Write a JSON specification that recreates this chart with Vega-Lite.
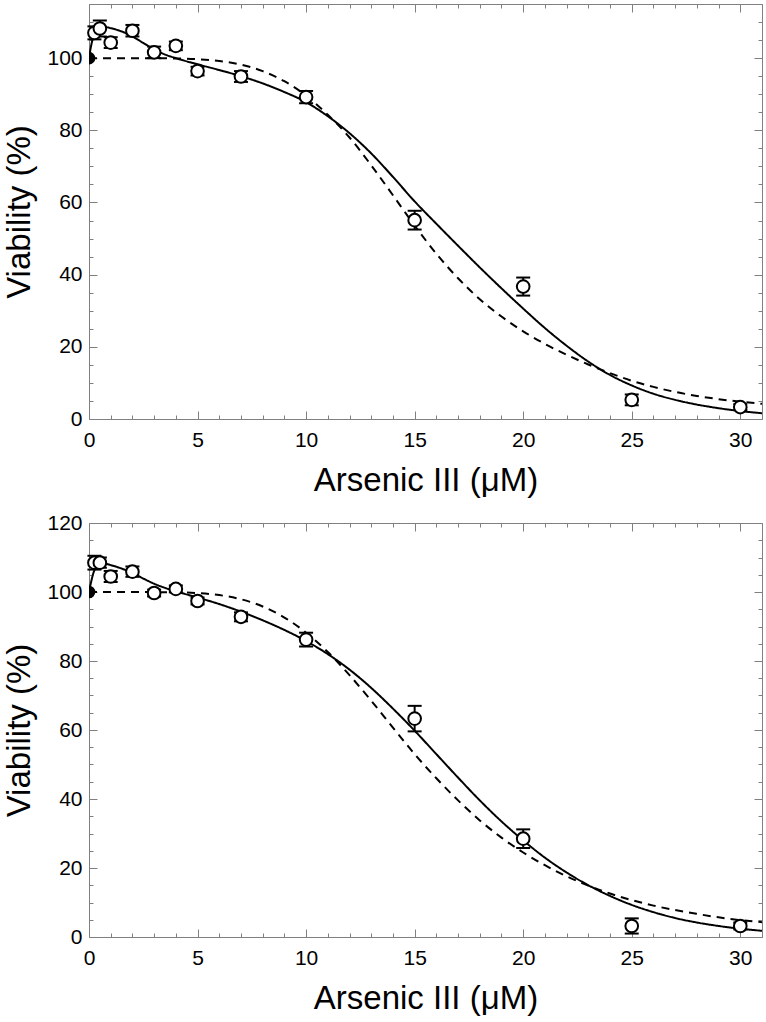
{
  "$schema": "https://vega.github.io/schema/vega-lite/v6.json",
  "padding": {"left": 3, "top": 3, "right": 3, "bottom": 2},
  "spacing": 15,
  "config": {
    "font": "Liberation Sans",
    "view": {"stroke": null},
    "axis": {
      "domainColor": "#808080",
      "tickColor": "#808080",
      "labelColor": "black",
      "titleColor": "black",
      "labelFontSize": 21,
      "titleFontSize": 33,
      "titleFontWeight": "normal",
      "grid": false,
      "labelFlush": false,
      "labelOverlap": false
    }
  },
  "datasets": {
    "ptsTop": [
      {"x": 0.25, "y": 107.0, "lo": 105.2, "hi": 108.8},
      {"x": 0.5, "y": 108.2, "lo": 106.0, "hi": 110.4},
      {"x": 1, "y": 104.3, "lo": 102.8, "hi": 105.8},
      {"x": 2, "y": 107.6, "lo": 106.0, "hi": 109.2},
      {"x": 3, "y": 101.6, "lo": 100.0, "hi": 103.2},
      {"x": 4, "y": 103.4, "lo": 102.2, "hi": 104.6},
      {"x": 5, "y": 96.4, "lo": 95.2, "hi": 97.6},
      {"x": 7, "y": 94.9, "lo": 93.4, "hi": 96.4},
      {"x": 10, "y": 89.2, "lo": 87.5, "hi": 90.9},
      {"x": 15, "y": 55.1, "lo": 52.5, "hi": 57.7},
      {"x": 20, "y": 36.7, "lo": 34.2, "hi": 39.2},
      {"x": 25, "y": 5.3, "lo": 3.8, "hi": 6.8},
      {"x": 30, "y": 3.3, "lo": 2.5, "hi": 4.1}
    ],
    "ptsBot": [
      {"x": 0.25, "y": 108.5, "lo": 106.5, "hi": 110.5},
      {"x": 0.5, "y": 108.5, "lo": 107.0, "hi": 110.0},
      {"x": 1, "y": 104.5, "lo": 102.9, "hi": 106.1},
      {"x": 2, "y": 105.9, "lo": 104.4, "hi": 107.4},
      {"x": 3, "y": 99.7, "lo": 98.7, "hi": 100.7},
      {"x": 4, "y": 100.9, "lo": 99.9, "hi": 101.9},
      {"x": 5, "y": 97.4, "lo": 96.4, "hi": 98.4},
      {"x": 7, "y": 92.8, "lo": 91.5, "hi": 94.1},
      {"x": 10, "y": 86.2, "lo": 84.2, "hi": 88.2},
      {"x": 15, "y": 63.3, "lo": 59.6, "hi": 67.0},
      {"x": 20, "y": 28.5, "lo": 25.8, "hi": 31.2},
      {"x": 25, "y": 3.2, "lo": 1.0, "hi": 5.4},
      {"x": 30, "y": 3.2, "lo": 2.2, "hi": 4.2}
    ],
    "ctrl": [{"x": 0, "y": 100}],
    "fitTop": [
      {"model": "hormetic", "x": 0, "y": 100},
      {"model": "hormetic", "x": 0.1, "y": 103.5},
      {"model": "hormetic", "x": 0.25, "y": 106.8},
      {"model": "hormetic", "x": 0.5, "y": 108.4},
      {"model": "hormetic", "x": 0.75, "y": 108.6},
      {"model": "hormetic", "x": 1, "y": 108.3},
      {"model": "hormetic", "x": 1.5, "y": 107.4},
      {"model": "hormetic", "x": 2, "y": 106.0},
      {"model": "hormetic", "x": 2.5, "y": 104.2},
      {"model": "hormetic", "x": 3, "y": 102.4},
      {"model": "hormetic", "x": 3.5, "y": 101.0},
      {"model": "hormetic", "x": 4, "y": 100.0},
      {"model": "hormetic", "x": 5, "y": 98.3},
      {"model": "hormetic", "x": 6, "y": 96.7},
      {"model": "hormetic", "x": 7, "y": 95.0},
      {"model": "hormetic", "x": 8, "y": 93.0},
      {"model": "hormetic", "x": 9, "y": 90.6},
      {"model": "hormetic", "x": 10, "y": 87.8},
      {"model": "hormetic", "x": 11, "y": 83.9},
      {"model": "hormetic", "x": 12, "y": 79.2},
      {"model": "hormetic", "x": 13, "y": 73.6},
      {"model": "hormetic", "x": 14, "y": 67.1},
      {"model": "hormetic", "x": 15, "y": 60.3},
      {"model": "hormetic", "x": 16, "y": 54.1},
      {"model": "hormetic", "x": 17, "y": 48.0},
      {"model": "hormetic", "x": 18, "y": 42.0},
      {"model": "hormetic", "x": 19, "y": 36.2},
      {"model": "hormetic", "x": 20, "y": 30.6},
      {"model": "hormetic", "x": 21, "y": 25.2},
      {"model": "hormetic", "x": 22, "y": 20.3},
      {"model": "hormetic", "x": 23, "y": 15.9},
      {"model": "hormetic", "x": 24, "y": 12.2},
      {"model": "hormetic", "x": 25, "y": 9.3},
      {"model": "hormetic", "x": 26, "y": 7.0},
      {"model": "hormetic", "x": 27, "y": 5.3},
      {"model": "hormetic", "x": 28, "y": 4.0},
      {"model": "hormetic", "x": 29, "y": 3.0},
      {"model": "hormetic", "x": 30, "y": 2.2},
      {"model": "hormetic", "x": 31, "y": 1.6},
      {"model": "hill", "x": 0, "y": 100},
      {"model": "hill", "x": 2, "y": 100},
      {"model": "hill", "x": 4, "y": 99.9},
      {"model": "hill", "x": 5, "y": 99.7},
      {"model": "hill", "x": 6, "y": 99.2},
      {"model": "hill", "x": 7, "y": 98.2},
      {"model": "hill", "x": 8, "y": 96.4},
      {"model": "hill", "x": 9, "y": 93.6},
      {"model": "hill", "x": 10, "y": 89.6},
      {"model": "hill", "x": 11, "y": 84.3},
      {"model": "hill", "x": 12, "y": 78.0},
      {"model": "hill", "x": 13, "y": 70.3},
      {"model": "hill", "x": 14, "y": 62.0},
      {"model": "hill", "x": 15, "y": 53.6},
      {"model": "hill", "x": 16, "y": 45.8},
      {"model": "hill", "x": 17, "y": 39.0},
      {"model": "hill", "x": 18, "y": 33.2},
      {"model": "hill", "x": 19, "y": 28.4},
      {"model": "hill", "x": 20, "y": 24.3},
      {"model": "hill", "x": 21, "y": 20.8},
      {"model": "hill", "x": 22, "y": 17.8},
      {"model": "hill", "x": 23, "y": 15.1},
      {"model": "hill", "x": 24, "y": 12.7},
      {"model": "hill", "x": 25, "y": 10.6},
      {"model": "hill", "x": 26, "y": 8.9},
      {"model": "hill", "x": 27, "y": 7.5},
      {"model": "hill", "x": 28, "y": 6.4},
      {"model": "hill", "x": 29, "y": 5.5},
      {"model": "hill", "x": 30, "y": 4.8},
      {"model": "hill", "x": 31, "y": 4.2}
    ],
    "fitBot": [
      {"model": "hormetic", "x": 0, "y": 100},
      {"model": "hormetic", "x": 0.1, "y": 103.0},
      {"model": "hormetic", "x": 0.25, "y": 106.3},
      {"model": "hormetic", "x": 0.5, "y": 108.0},
      {"model": "hormetic", "x": 0.75, "y": 108.2},
      {"model": "hormetic", "x": 1, "y": 107.8},
      {"model": "hormetic", "x": 1.5, "y": 106.8},
      {"model": "hormetic", "x": 2, "y": 105.5},
      {"model": "hormetic", "x": 2.5, "y": 103.9},
      {"model": "hormetic", "x": 3, "y": 102.4},
      {"model": "hormetic", "x": 3.5, "y": 101.2},
      {"model": "hormetic", "x": 4, "y": 100.2},
      {"model": "hormetic", "x": 5, "y": 98.4},
      {"model": "hormetic", "x": 6, "y": 96.5},
      {"model": "hormetic", "x": 7, "y": 94.3},
      {"model": "hormetic", "x": 8, "y": 91.8},
      {"model": "hormetic", "x": 9, "y": 89.0},
      {"model": "hormetic", "x": 10, "y": 85.8},
      {"model": "hormetic", "x": 11, "y": 82.0},
      {"model": "hormetic", "x": 12, "y": 77.5},
      {"model": "hormetic", "x": 13, "y": 72.2},
      {"model": "hormetic", "x": 14, "y": 66.2},
      {"model": "hormetic", "x": 15, "y": 59.8},
      {"model": "hormetic", "x": 16, "y": 53.0},
      {"model": "hormetic", "x": 17, "y": 46.2},
      {"model": "hormetic", "x": 18, "y": 39.6},
      {"model": "hormetic", "x": 19, "y": 33.5},
      {"model": "hormetic", "x": 20, "y": 28.0},
      {"model": "hormetic", "x": 21, "y": 23.0},
      {"model": "hormetic", "x": 22, "y": 18.7},
      {"model": "hormetic", "x": 23, "y": 15.0},
      {"model": "hormetic", "x": 24, "y": 11.9},
      {"model": "hormetic", "x": 25, "y": 9.3},
      {"model": "hormetic", "x": 26, "y": 7.2},
      {"model": "hormetic", "x": 27, "y": 5.5},
      {"model": "hormetic", "x": 28, "y": 4.2},
      {"model": "hormetic", "x": 29, "y": 3.2},
      {"model": "hormetic", "x": 30, "y": 2.4},
      {"model": "hormetic", "x": 31, "y": 1.8},
      {"model": "hill", "x": 0, "y": 100},
      {"model": "hill", "x": 2, "y": 100},
      {"model": "hill", "x": 4, "y": 99.9},
      {"model": "hill", "x": 5, "y": 99.7},
      {"model": "hill", "x": 6, "y": 99.1},
      {"model": "hill", "x": 7, "y": 97.9},
      {"model": "hill", "x": 8, "y": 95.8},
      {"model": "hill", "x": 9, "y": 92.6},
      {"model": "hill", "x": 10, "y": 88.2},
      {"model": "hill", "x": 11, "y": 82.6},
      {"model": "hill", "x": 12, "y": 75.9},
      {"model": "hill", "x": 13, "y": 68.5},
      {"model": "hill", "x": 14, "y": 60.7},
      {"model": "hill", "x": 15, "y": 53.0},
      {"model": "hill", "x": 16, "y": 46.0},
      {"model": "hill", "x": 17, "y": 39.6},
      {"model": "hill", "x": 18, "y": 33.8},
      {"model": "hill", "x": 19, "y": 28.8},
      {"model": "hill", "x": 20, "y": 24.5},
      {"model": "hill", "x": 21, "y": 20.8},
      {"model": "hill", "x": 22, "y": 17.6},
      {"model": "hill", "x": 23, "y": 14.9},
      {"model": "hill", "x": 24, "y": 12.6},
      {"model": "hill", "x": 25, "y": 10.7},
      {"model": "hill", "x": 26, "y": 9.1},
      {"model": "hill", "x": 27, "y": 7.8},
      {"model": "hill", "x": 28, "y": 6.7},
      {"model": "hill", "x": 29, "y": 5.7},
      {"model": "hill", "x": 30, "y": 4.9},
      {"model": "hill", "x": 31, "y": 4.3}
    ]
  },
  "vconcat": [
    {
      "width": 673,
      "height": 415,
      "resolve": {"axis": {"x": "independent", "y": "independent"}},
      "layer": [
        {
          "data": {"name": "fitTop"},
          "mark": {"type": "line", "color": "black", "strokeWidth": 2, "interpolate": "monotone", "clip": true},
          "encoding": {
            "x": {"field": "x", "type": "quantitative", "scale": {"domain": [0, 31], "nice": false, "zero": false},
              "axis": {"orient": "bottom", "values": [0,1,2,3,4,5,6,7,8,9,10,11,12,13,14,15,16,17,18,19,20,21,22,23,24,25,26,27,28,29,30,31],
                "labelExpr": "datum.value % 5 === 0 ? datum.label : ''",
                "labelFontSize": {"condition": {"test": "datum.value % 5 === 0", "value": 21}, "value": 0},
                "tickSize": {"condition": {"test": "datum.value % 5 === 0", "value": -8}, "value": -4},
                "labelPadding": 18, "title": "Arsenic III (μM)", "titlePadding": 14}},
            "y": {"field": "y", "type": "quantitative", "scale": {"domain": [0, 115], "nice": false, "zero": false},
              "axis": {"orient": "left", "values": [0,5,10,15,20,25,30,35,40,45,50,55,60,65,70,75,80,85,90,95,100,105,110,115],
                "labelExpr": "datum.value % 20 === 0 ? datum.label : ''",
                "labelFontSize": {"condition": {"test": "datum.value % 20 === 0", "value": 21}, "value": 0},
                "tickSize": {"condition": {"test": "datum.value % 20 === 0", "value": -8}, "value": -4},
                "labelPadding": 15, "title": "Viability (%)", "titlePadding": 10}},
            "strokeDash": {"field": "model", "type": "nominal", "scale": {"domain": ["hormetic", "hill"], "range": [[1, 0], [8, 6]]}, "legend": null}
          }
        },
        {
          "data": {"name": "ptsTop"},
          "mark": {"type": "rule", "color": "black", "strokeWidth": 2, "opacity": 1},
          "encoding": {
            "x": {"field": "x", "type": "quantitative", "scale": {"domain": [0, 31], "nice": false, "zero": false},
              "axis": {"orient": "top", "values": [0,1,2,3,4,5,6,7,8,9,10,11,12,13,14,15,16,17,18,19,20,21,22,23,24,25,26,27,28,29,30,31],
                "labels": false, "title": null,
                "tickSize": {"condition": {"test": "datum.value % 5 === 0", "value": -8}, "value": -4}}},
            "y": {"field": "lo", "type": "quantitative", "scale": {"domain": [0, 115], "nice": false, "zero": false},
              "axis": {"orient": "right", "values": [0,5,10,15,20,25,30,35,40,45,50,55,60,65,70,75,80,85,90,95,100,105,110,115],
                "labels": false, "title": null,
                "tickSize": {"condition": {"test": "datum.value % 20 === 0", "value": -8}, "value": -4}}},
            "y2": {"field": "hi"}
          }
        },
        {
          "data": {"name": "ptsTop"},
          "mark": {"type": "tick", "orient": "horizontal", "color": "black", "size": 14, "thickness": 2, "opacity": 1},
          "encoding": {
            "x": {"field": "x", "type": "quantitative", "axis": null},
            "y": {"field": "lo", "type": "quantitative", "axis": null}
          }
        },
        {
          "data": {"name": "ptsTop"},
          "mark": {"type": "tick", "orient": "horizontal", "color": "black", "size": 14, "thickness": 2, "opacity": 1},
          "encoding": {
            "x": {"field": "x", "type": "quantitative", "axis": null},
            "y": {"field": "hi", "type": "quantitative", "axis": null}
          }
        },
        {
          "data": {"name": "ctrl"},
          "mark": {"type": "circle", "color": "black", "size": 160, "opacity": 1, "clip": true},
          "encoding": {
            "x": {"field": "x", "type": "quantitative", "axis": null},
            "y": {"field": "y", "type": "quantitative", "axis": null}
          }
        },
        {
          "data": {"name": "ptsTop"},
          "mark": {"type": "point", "shape": "circle", "filled": true, "fill": "white", "stroke": "black", "strokeWidth": 2, "size": 160, "opacity": 1},
          "encoding": {
            "x": {"field": "x", "type": "quantitative", "axis": null},
            "y": {"field": "y", "type": "quantitative", "axis": null}
          }
        }
      ]
    },
    {
      "width": 673,
      "height": 414,
      "resolve": {"axis": {"x": "independent", "y": "independent"}},
      "layer": [
        {
          "data": {"name": "fitBot"},
          "mark": {"type": "line", "color": "black", "strokeWidth": 2, "interpolate": "monotone", "clip": true},
          "encoding": {
            "x": {"field": "x", "type": "quantitative", "scale": {"domain": [0, 31], "nice": false, "zero": false},
              "axis": {"orient": "bottom", "values": [0,1,2,3,4,5,6,7,8,9,10,11,12,13,14,15,16,17,18,19,20,21,22,23,24,25,26,27,28,29,30,31],
                "labelExpr": "datum.value % 5 === 0 ? datum.label : ''",
                "labelFontSize": {"condition": {"test": "datum.value % 5 === 0", "value": 21}, "value": 0},
                "tickSize": {"condition": {"test": "datum.value % 5 === 0", "value": -8}, "value": -4},
                "labelPadding": 18, "title": "Arsenic III (μM)", "titlePadding": 14}},
            "y": {"field": "y", "type": "quantitative", "scale": {"domain": [0, 120], "nice": false, "zero": false},
              "axis": {"orient": "left", "values": [0,5,10,15,20,25,30,35,40,45,50,55,60,65,70,75,80,85,90,95,100,105,110,115,120],
                "labelExpr": "datum.value % 20 === 0 ? datum.label : ''",
                "labelFontSize": {"condition": {"test": "datum.value % 20 === 0", "value": 21}, "value": 0},
                "tickSize": {"condition": {"test": "datum.value % 20 === 0", "value": -8}, "value": -4},
                "labelPadding": 15, "title": "Viability (%)", "titlePadding": 10}},
            "strokeDash": {"field": "model", "type": "nominal", "scale": {"domain": ["hormetic", "hill"], "range": [[1, 0], [8, 6]]}, "legend": null}
          }
        },
        {
          "data": {"name": "ptsBot"},
          "mark": {"type": "rule", "color": "black", "strokeWidth": 2, "opacity": 1},
          "encoding": {
            "x": {"field": "x", "type": "quantitative", "scale": {"domain": [0, 31], "nice": false, "zero": false},
              "axis": {"orient": "top", "values": [0,1,2,3,4,5,6,7,8,9,10,11,12,13,14,15,16,17,18,19,20,21,22,23,24,25,26,27,28,29,30,31],
                "labels": false, "title": null,
                "tickSize": {"condition": {"test": "datum.value % 5 === 0", "value": -8}, "value": -4}}},
            "y": {"field": "lo", "type": "quantitative", "scale": {"domain": [0, 120], "nice": false, "zero": false},
              "axis": {"orient": "right", "values": [0,5,10,15,20,25,30,35,40,45,50,55,60,65,70,75,80,85,90,95,100,105,110,115,120],
                "labels": false, "title": null,
                "tickSize": {"condition": {"test": "datum.value % 20 === 0", "value": -8}, "value": -4}}},
            "y2": {"field": "hi"}
          }
        },
        {
          "data": {"name": "ptsBot"},
          "mark": {"type": "tick", "orient": "horizontal", "color": "black", "size": 14, "thickness": 2, "opacity": 1},
          "encoding": {
            "x": {"field": "x", "type": "quantitative", "axis": null},
            "y": {"field": "lo", "type": "quantitative", "axis": null}
          }
        },
        {
          "data": {"name": "ptsBot"},
          "mark": {"type": "tick", "orient": "horizontal", "color": "black", "size": 14, "thickness": 2, "opacity": 1},
          "encoding": {
            "x": {"field": "x", "type": "quantitative", "axis": null},
            "y": {"field": "hi", "type": "quantitative", "axis": null}
          }
        },
        {
          "data": {"name": "ctrl"},
          "mark": {"type": "circle", "color": "black", "size": 160, "opacity": 1, "clip": true},
          "encoding": {
            "x": {"field": "x", "type": "quantitative", "axis": null},
            "y": {"field": "y", "type": "quantitative", "axis": null}
          }
        },
        {
          "data": {"name": "ptsBot"},
          "mark": {"type": "point", "shape": "circle", "filled": true, "fill": "white", "stroke": "black", "strokeWidth": 2, "size": 160, "opacity": 1},
          "encoding": {
            "x": {"field": "x", "type": "quantitative", "axis": null},
            "y": {"field": "y", "type": "quantitative", "axis": null}
          }
        }
      ]
    }
  ]
}
